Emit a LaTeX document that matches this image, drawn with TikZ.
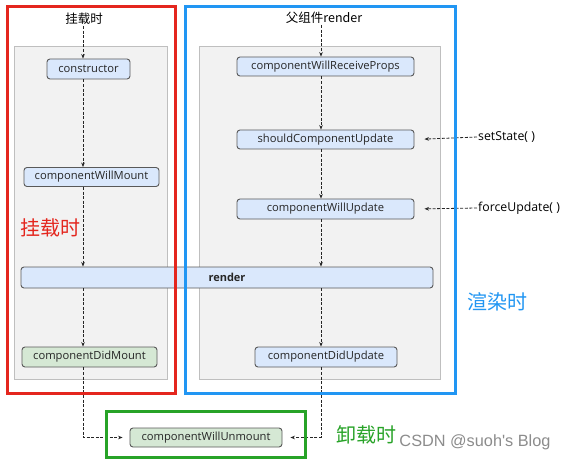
\documentclass[tikz,border=0pt]{standalone}
\usepackage{fontspec}
\setmainfont{Open Sans}
\newfontfamily\cjk{Noto Sans CJK SC}
\newfontfamily\wmfont{Liberation Sans}
\usetikzlibrary{arrows.meta}
\definecolor{nodeblue}{HTML}{DAE8FC}
\definecolor{nodegreen}{HTML}{D5E8D4}
\definecolor{panelfill}{HTML}{F2F2F2}
\definecolor{paneldraw}{HTML}{BFBFBF}
\definecolor{phasered}{RGB}{228,38,30}
\definecolor{phaseblue}{RGB}{33,150,243}
\definecolor{phasegreen}{RGB}{40,163,40}
\begin{document}
\begin{tikzpicture}[x=1pt,y=-1pt,
  lc/.style={draw=black!65, fill=nodeblue, rounded corners=3pt, line width=0.9pt,
    inner sep=0pt, font=\fontsize{11.2}{13}\selectfont, text=black!85},
  lcg/.style={lc, fill=nodegreen},
  panel/.style={draw=paneldraw, fill=panelfill, line width=0.9pt},
  phase/.style={line width=3pt},
  flow/.style={draw=black!85, line width=0.8pt, dash pattern=on 3pt off 1.6pt,
    -{Stealth[length=4.5pt,width=3.6pt]}},
  ttl/.style={font=\cjk\fontsize{12.5}{14}\selectfont, inner sep=1pt},
  big/.style={font=\cjk\fontsize{20}{22}\selectfont, inner sep=0pt},
  trig/.style={font=\fontsize{12.3}{14}\selectfont, inner sep=1pt, anchor=west}]
\useasboundingbox (0,0) rectangle (566,460);
\fill[white] (0,0) rectangle (566,460);

% gray panels
\path[panel] (14,46) rectangle (167,379);
\path[panel] (199,46) rectangle (440,379);

\coordinate (colL) at (83,0);
\coordinate (colR) at (321,0);

% titles
\node[ttl] (tL) at (84,19) {挂载时};
\node[ttl] (tR) at (324,18) {父组件render};

% left column
\node[lc, minimum width=83pt, minimum height=20pt] (cons) at (88.5,69) {constructor};
\node[lc, minimum width=135pt, minimum height=19pt] (cwm) at (91.5,177) {componentWillMount};
\node[lcg, minimum width=135pt, minimum height=20pt] (cdm) at (89.5,357) {componentDidMount};

% right column
\node[lc, minimum width=177pt, minimum height=19pt] (cwrp) at (325.5,66.5) {componentWillReceiveProps};
\node[lc, minimum width=177pt, minimum height=19pt] (scu) at (325.5,139.5) {shouldComponentUpdate};
\node[lc, minimum width=177pt, minimum height=20pt] (cwu) at (325.5,209) {componentWillUpdate};
\node[lc, minimum width=142pt, minimum height=20pt] (cdu) at (326,357) {componentDidUpdate};

% render bar
\node[lc, minimum width=412pt, minimum height=21pt, font=\bfseries\fontsize{11}{13}\selectfont] (rnd) at (227,277.5) {render};

% unmount
\node[lcg, minimum width=152pt, minimum height=19pt] (cwun) at (206,437.5) {componentWillUnmount};

% triggers
\node[trig] (ss) at (477,137) {setState( )};
\node[trig] (fu) at (477,208) {forceUpdate( )};

% arrows left
\draw[flow] (tL.south -| colL) -- (cons.north -| colL);
\draw[flow] (cons.south -| colL) -- (cwm.north -| colL);
\draw[flow] (cwm.south -| colL) -- (rnd.north -| colL);
\draw[flow] (rnd.south -| colL) -- (cdm.north -| colL);
\draw[flow, shorten >=7pt] (cdm.south -| colL) |- (cwun.west);

% arrows right
\draw[flow] (tR.south -| colR) -- (cwrp.north -| colR);
\draw[flow] (cwrp.south -| colR) -- (scu.north -| colR);
\draw[flow] (scu.south -| colR) -- (cwu.north -| colR);
\draw[flow] (cwu.south -| colR) -- (rnd.north -| colR);
\draw[flow] (rnd.south -| colR) -- (cdu.north -| colR);
\draw[flow, shorten >=8pt] (cdu.south -| colR) |- (cwun.east);

\draw[flow, shorten >=10pt] (ss.west) -- (scu.east);
\draw[flow, shorten >=10pt] (fu.west) -- (cwu.east);

% phase frames
\draw[phase, draw=phasered] (7,7) rectangle (175,393);
\draw[phase, draw=phaseblue] (185,7) rectangle (455,393);
\draw[phase, draw=phasegreen] (106,411) rectangle (305,457);

% phase labels
\node[big, text=phasered] (lm) at (50,228) {挂载时};
\node[big, text=phaseblue] (lr) at (497,302) {渲染时};
\node[big, text=phasegreen] (lu) at (366,435) {卸载时};
\node[font=\wmfont\fontsize{16.3}{18}\selectfont, text=black!45, inner sep=0pt] (wm) at (475,442) {CSDN @suoh's Blog};
\end{tikzpicture}
\end{document}
